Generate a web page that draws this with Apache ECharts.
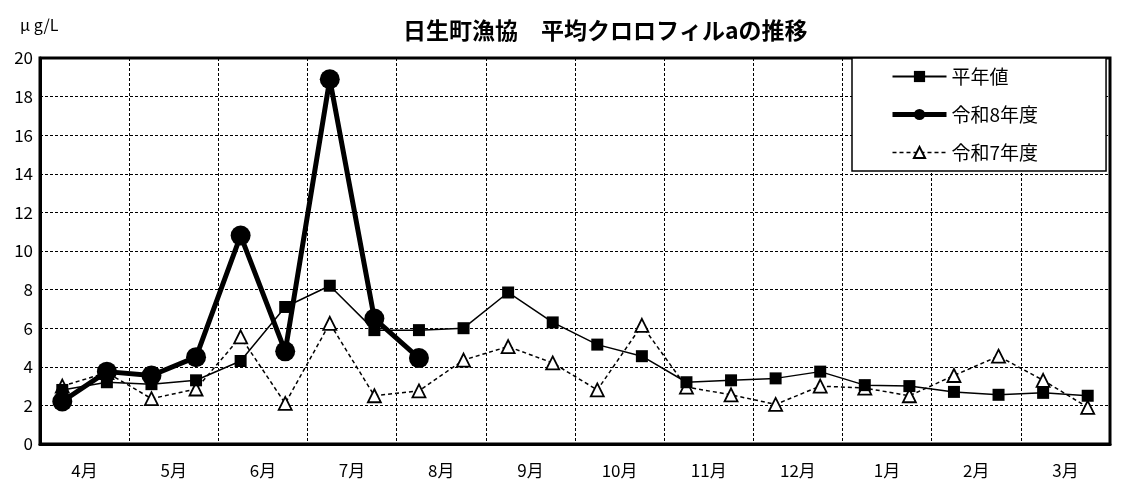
<!DOCTYPE html>
<html>
<head>
<meta charset="utf-8">
<script src="https://cdn.jsdelivr.net/npm/echarts@6/dist/echarts.min.js"></script>
<style>
  html, body { margin: 0; padding: 0; background: #fff; }
  #main { width: 1129px; height: 496px; }
</style>
</head>
<body>
<div id="main"></div>
<script>
const months = ["4月","5月","6月","7月","8月","9月","10月","11月","12月","1月","2月","3月"];
// 半月ごと（上旬・下旬）の24区間
const halfMonths = [];
months.forEach(function (m) { halfMonths.push(m + "前半", m + "後半"); });

const normalYear = [2.8,3.2,3.1,3.3,4.3,7.1,8.2,5.9,5.9,6.0,7.85,6.3,5.15,4.55,3.2,3.3,3.4,3.75,3.05,3.0,2.7,2.55,2.65,2.5];
const reiwa8 = [2.2,3.75,3.55,4.5,10.8,4.8,18.9,6.5,4.45,null,null,null,null,null,null,null,null,null,null,null,null,null,null,null];
const reiwa7 = [3.0,3.7,2.35,2.85,5.55,2.1,6.25,2.5,2.75,4.35,5.05,4.2,2.8,6.15,2.95,2.55,2.05,3.0,2.9,2.5,3.55,4.55,3.3,1.9];

const font = "'Noto Sans CJK JP', 'DejaVu Sans', sans-serif";

const myChart = echarts.init(document.getElementById('main'));

const option = {
    backgroundColor: '#fff',
    animation: false,
    title: {
        text: '日生町漁協　平均クロロフィルaの推移',
        left: 398,
        top: 14,
        textStyle: { fontFamily: font, fontSize: 23, fontWeight: 'bold', color: '#000' }
    },
    graphic: [{
        type: 'text',
        left: 20,
        top: 17,
        style: { text: 'μ g/L', font: '16px ' + font, fill: '#000' }
    }],
    legend: {
        orient: 'vertical',
        left: 852,
        top: 58,
        padding: [9, 68, 9, 38],
        itemGap: 19,
        itemWidth: 54,
        itemHeight: 14,
        backgroundColor: '#fff',
        borderColor: '#000',
        borderWidth: 1.5,
        borderRadius: 0,
        textStyle: { fontFamily: font, fontSize: 19, color: '#000' },
        data: [
            { name: '平年値', lineStyle: { width: 2 } },
            { name: '令和8年度', lineStyle: { width: 5 } },
            { name: '令和7年度', lineStyle: { width: 1.5 } }
        ]
    },
    grid: {
        left: 40,
        right: 19,
        top: 58,
        bottom: 52,
        show: true,
        borderColor: '#000',
        borderWidth: 3,
        z: 0
    },
    xAxis: [{
        type: 'category',
        data: months,
        boundaryGap: true,
        axisLine: { show: true, lineStyle: { color: '#000', width: 3 } },
        axisTick: { show: false },
        axisLabel: { color: '#000', fontFamily: font, fontSize: 17, margin: 18 },
        splitLine: { show: true, lineStyle: { color: '#000', width: 1, type: [3, 2] } }
    }, {
        type: 'category',
        data: halfMonths,
        boundaryGap: true,
        position: 'bottom',
        show: false
    }],
    yAxis: {
        type: 'value',
        min: 0,
        max: 20,
        interval: 2,
        axisLine: { show: true, lineStyle: { color: '#000', width: 3 } },
        axisTick: { show: false },
        axisLabel: { color: '#000', fontFamily: font, fontSize: 17, margin: 7 },
        splitLine: { show: true, lineStyle: { color: '#000', width: 1, type: [3, 2] } }
    },
    series: [{
        name: '平年値',
        type: 'line',
        xAxisIndex: 1,
        data: normalYear,
        symbol: 'rect',
        symbolSize: 12,
        showAllSymbol: true,
        lineStyle: { color: '#000', width: 1.5 },
        itemStyle: { color: '#000', borderColor: '#000', borderWidth: 0 },
        z: 3
    }, {
        name: '令和8年度',
        type: 'line',
        xAxisIndex: 1,
        data: reiwa8,
        symbol: 'circle',
        symbolSize: 20,
        showAllSymbol: true,
        lineStyle: { color: '#000', width: 5 },
        itemStyle: { color: '#000', borderColor: '#000', borderWidth: 0 },
        z: 4
    }, {
        name: '令和7年度',
        type: 'line',
        xAxisIndex: 1,
        data: reiwa7,
        symbol: 'triangle',
        symbolSize: 13,
        showAllSymbol: true,
        lineStyle: { color: '#000', width: 1.5, type: [4, 3] },
        itemStyle: { color: '#fff', borderColor: '#000', borderWidth: 1.8 },
        z: 2
    }]
};
myChart.setOption(option);
</script>
</body>
</html>
